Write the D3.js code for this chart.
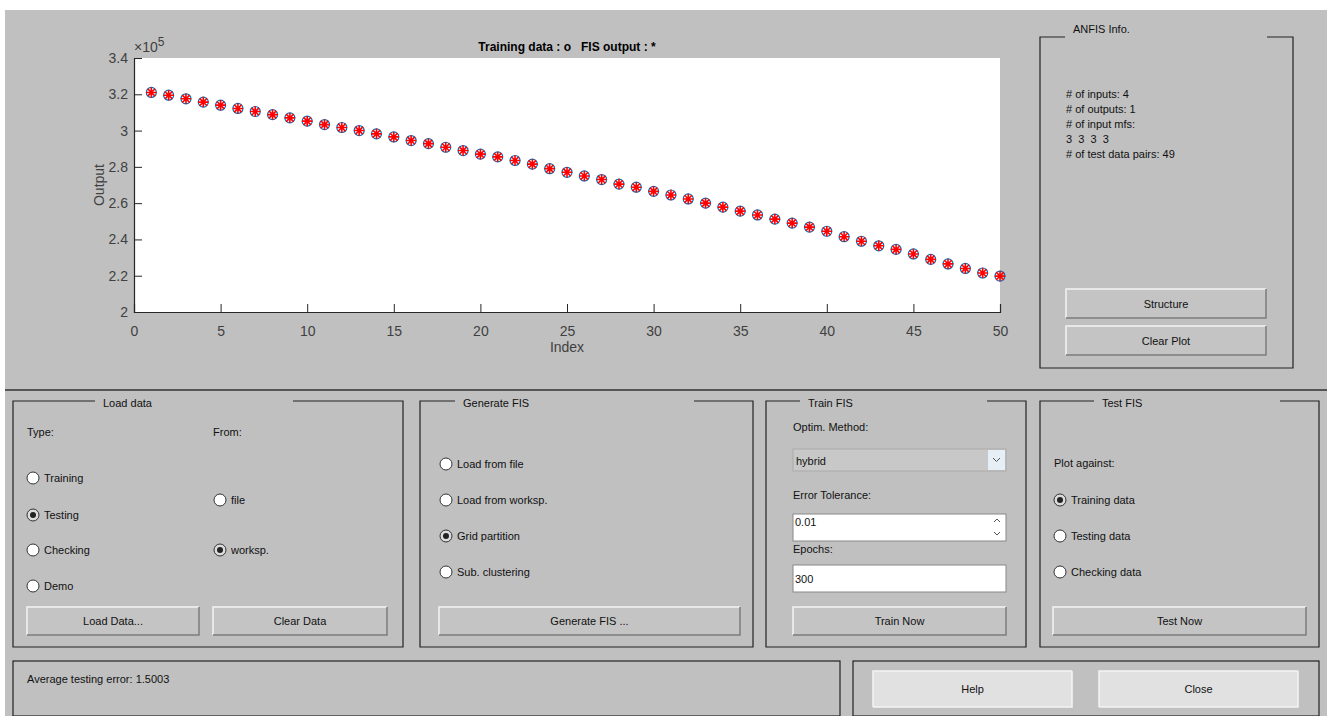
<!DOCTYPE html>
<html>
<head>
<meta charset="utf-8">
<title>ANFIS Editor</title>
<script src="https://cdn.jsdelivr.net/npm/d3@7"></script>
<style>
  body { margin: 0; background: #fff; }
  svg text { font-family: "Liberation Sans", Arial, sans-serif; white-space: pre; }
</style>
</head>
<body>
<svg id="gui" width="1333" height="716"></svg>
<script>
// data
const indexVals = d3.range(1, 51);
const trainingOutput = [
  3.21, 3.195, 3.175, 3.157, 3.14, 3.122, 3.105, 3.088, 3.07, 3.052,
  3.033, 3.017, 3.0, 2.982, 2.965, 2.945, 2.928, 2.908, 2.89, 2.87,
  2.855, 2.835, 2.815, 2.79, 2.77, 2.75, 2.73, 2.705, 2.688, 2.665,
  2.645, 2.623, 2.60, 2.578, 2.556, 2.535, 2.512, 2.49, 2.468, 2.445,
  2.415, 2.39, 2.365, 2.345, 2.32, 2.29, 2.265, 2.24, 2.215, 2.198
];
const fisOutput = [
  3.21, 3.195, 3.175, 3.157, 3.14, 3.122, 3.105, 3.088, 3.07, 3.052,
  3.033, 3.017, 3.0, 2.982, 2.965, 2.945, 2.928, 2.908, 2.89, 2.87,
  2.855, 2.835, 2.815, 2.79, 2.77, 2.75, 2.73, 2.705, 2.688, 2.665,
  2.645, 2.623, 2.60, 2.578, 2.556, 2.535, 2.512, 2.49, 2.468, 2.445,
  2.415, 2.39, 2.365, 2.345, 2.32, 2.29, 2.265, 2.24, 2.215, 2.198
];
const xTicks = [0, 5, 10, 15, 20, 25, 30, 35, 40, 45, 50];
const yTicks = [2, 2.2, 2.4, 2.6, 2.8, 3, 3.2, 3.4];
const infoLines = ["# of inputs: 4", "# of outputs: 1", "# of input mfs:", "3  3  3  3", "# of test data pairs: 49"];

const svg = d3.select("#gui");
const BG = "#c0c0c0";

// figure background
svg.append("rect").attr("x", 5).attr("y", 10).attr("width", 1322).attr("height", 706).attr("fill", BG);
svg.append("line").attr("x1", 5).attr("x2", 1327).attr("y1", 390).attr("y2", 390)
  .attr("stroke", "#555").attr("stroke-width", 2);

// ---- plot ----
const x = d3.scaleLinear().domain([0, 50]).range([134, 1000]);
const y = d3.scaleLinear().domain([2, 3.4]).range([312, 58]);

svg.append("rect").attr("x", 134).attr("y", 58).attr("width", 866).attr("height", 254).attr("fill", "#fff");

const axisCol = "#262626";
const gx = svg.append("g").attr("transform", "translate(0,312)")
  .call(d3.axisBottom(x).tickValues(xTicks).tickSize(-8).tickPadding(14).tickFormat(d3.format("d")));
const gy = svg.append("g").attr("transform", "translate(134,0)")
  .call(d3.axisLeft(y).tickValues(yTicks).tickSize(-8).tickPadding(6).tickFormat(d => String(+d.toFixed(1))));
[gx, gy].forEach(g => {
  g.select(".domain").attr("stroke", axisCol).attr("stroke-width", 1.2);
  g.selectAll(".tick line").attr("stroke", axisCol);
  g.selectAll(".tick text").attr("fill", "#404040").attr("font-size", 14)
    .attr("font-family", "Liberation Sans, Arial, sans-serif");
});

svg.append("text").attr("x", 567).attr("y", 51).attr("text-anchor", "middle")
  .attr("font-size", 12).attr("font-weight", "bold").attr("fill", "#000")
  .text("Training data : o   FIS output : *");
svg.append("text").attr("x", 567).attr("y", 352).attr("text-anchor", "middle")
  .attr("font-size", 14).attr("fill", "#404040").text("Index");
svg.append("text").attr("transform", "translate(104,185) rotate(-90)").attr("text-anchor", "middle")
  .attr("font-size", 14).attr("fill", "#404040").text("Output");
const mult = svg.append("text").attr("x", 134).attr("y", 52).attr("font-size", 14).attr("fill", "#404040");
mult.append("tspan").text("\u00d710");
mult.append("tspan").attr("dy", -6).attr("font-size", 12).text("5");

// training data: blue circles
svg.append("g").selectAll("circle").data(indexVals).join("circle")
  .attr("cx", d => x(d)).attr("cy", (d, i) => y(trainingOutput[i])).attr("r", 5)
  .attr("fill", "none").attr("stroke", "#0072bd").attr("stroke-width", 1.2);

// FIS output: red asterisks
const star = d3.symbol().type({
  draw(ctx, size) {
    const r = Math.sqrt(size) / 2, a = r * 0.707;
    ctx.moveTo(-r, 0); ctx.lineTo(r, 0);
    ctx.moveTo(0, -r); ctx.lineTo(0, r);
    ctx.moveTo(-a, -a); ctx.lineTo(a, a);
    ctx.moveTo(-a, a); ctx.lineTo(a, -a);
  }
}).size(110);
svg.append("g").selectAll("path").data(indexVals).join("path")
  .attr("transform", (d, i) => `translate(${x(d)},${y(fisOutput[i])})`)
  .attr("d", star).attr("stroke", "#ff0000").attr("stroke-width", 1.6).attr("fill", "none");

// ---- GUI helpers ----
const uiFont = 11;
function frame(x0, y0, x1, y1, title, tx, gapEnd, ty) {
  const p = d3.path();
  p.moveTo(tx - 8, y0); p.lineTo(x0, y0); p.lineTo(x0, y1); p.lineTo(x1, y1); p.lineTo(x1, y0); p.lineTo(gapEnd, y0);
  svg.append("path").attr("d", p.toString()).attr("fill", "none").attr("stroke", "#222").attr("stroke-width", 1.2);
  if (title) label(tx, ty != null ? ty : y0 + 6, title);
}
function label(lx, ly, t) {
  svg.append("text").attr("x", lx).attr("y", ly).attr("font-size", uiFont).attr("fill", "#111").text(t);
}
function box(x0, y0, x1, y1) {
  svg.append("rect").attr("x", x0).attr("y", y0).attr("width", x1 - x0).attr("height", y1 - y0)
    .attr("fill", "none").attr("stroke", "#222").attr("stroke-width", 1.2);
}
function button(x0, y0, x1, y1, t, light) {
  const g = svg.append("g");
  g.append("rect").attr("x", x0).attr("y", y0).attr("width", x1 - x0).attr("height", y1 - y0)
    .attr("fill", light ? "#e1e1e1" : "#c4c4c4");
  g.append("path").attr("d", `M${x0},${y1}L${x0},${y0}L${x1},${y0}`).attr("stroke", "#f4f4f4").attr("fill", "none").attr("stroke-width", 1.5);
  g.append("path").attr("d", `M${x1},${y0}L${x1},${y1}L${x0},${y1}`).attr("stroke", light ? "#f4f4f4" : "#7c7c7c").attr("fill", "none").attr("stroke-width", 1.5);
  g.append("text").attr("x", (x0 + x1) / 2).attr("y", (y0 + y1) / 2 + 4).attr("text-anchor", "middle")
    .attr("font-size", uiFont).attr("fill", "#111").text(t);
}
function radio(cx, cy, t, on) {
  svg.append("circle").attr("cx", cx).attr("cy", cy).attr("r", 6)
    .attr("fill", on ? "#dcdcdc" : "#fff").attr("stroke", "#333").attr("stroke-width", 1);
  if (on) svg.append("circle").attr("cx", cx).attr("cy", cy).attr("r", 3).attr("fill", "#222");
  label(cx + 11, cy + 4, t);
}

// ANFIS info panel
frame(1040, 37, 1293, 368, "ANFIS Info.", 1073, 1267, 33);
infoLines.forEach((t, i) => label(1066, 98 + i * 15, t));
button(1066, 289, 1266, 318, "Structure");
button(1066, 326, 1266, 355, "Clear Plot");

// Load data
frame(13, 401, 403, 647, "Load data", 103, 293);
label(27, 436, "Type:");
label(213, 436, "From:");
radio(33, 478, "Training", false);
radio(33, 515, "Testing", true);
radio(33, 550, "Checking", false);
radio(33, 586, "Demo", false);
radio(220, 500, "file", false);
radio(220, 550, "worksp.", true);
button(27, 607, 199, 635, "Load Data...");
button(213, 607, 387, 635, "Clear Data");

// Generate FIS
frame(420, 401, 753, 647, "Generate FIS", 463, 694);
radio(446, 464, "Load from file", false);
radio(446, 500, "Load from worksp.", false);
radio(446, 536, "Grid partition", true);
radio(446, 572, "Sub. clustering", false);
button(439, 607, 740, 635, "Generate FIS ...");

// Train FIS
frame(766, 401, 1026, 647, "Train FIS", 808, 987);
label(793, 431, "Optim. Method:");
svg.append("rect").attr("x", 793).attr("y", 449).attr("width", 213).attr("height", 22)
  .attr("fill", "#c8c8c8").attr("stroke", "#aaa");
svg.append("rect").attr("x", 988).attr("y", 450).attr("width", 17).attr("height", 20).attr("fill", "#e6eef6");
svg.append("path").attr("d", "M993,458l3.5,3.5l3.5,-3.5").attr("stroke", "#555").attr("fill", "none");
label(796, 465, "hybrid");
label(793, 499, "Error Tolerance:");
svg.append("rect").attr("x", 793).attr("y", 514).attr("width", 213).attr("height", 27)
  .attr("fill", "#fff").attr("stroke", "#888");
label(795, 526, "0.01");
svg.append("path").attr("d", "M994,522l3,-3l3,3M994,532l3,3l3,-3").attr("stroke", "#555").attr("fill", "none");
label(793, 553, "Epochs:");
svg.append("rect").attr("x", 793).attr("y", 565).attr("width", 213).attr("height", 27)
  .attr("fill", "#fff").attr("stroke", "#888");
label(795, 583, "300");
button(793, 607, 1006, 635, "Train Now");

// Test FIS
frame(1040, 401, 1319, 647, "Test FIS", 1102, 1280);
label(1054, 467, "Plot against:");
radio(1060, 500, "Training data", true);
radio(1060, 536, "Testing data", false);
radio(1060, 572, "Checking data", false);
button(1053, 607, 1306, 635, "Test Now");

// status and bottom buttons
box(13, 661, 840, 716);
label(27, 683, "Average testing error: 1.5003");
box(853, 661, 1319, 716);
button(873, 671, 1072, 707, "Help", true);
button(1099, 671, 1298, 707, "Close", true);
</script>
</body>
</html>
